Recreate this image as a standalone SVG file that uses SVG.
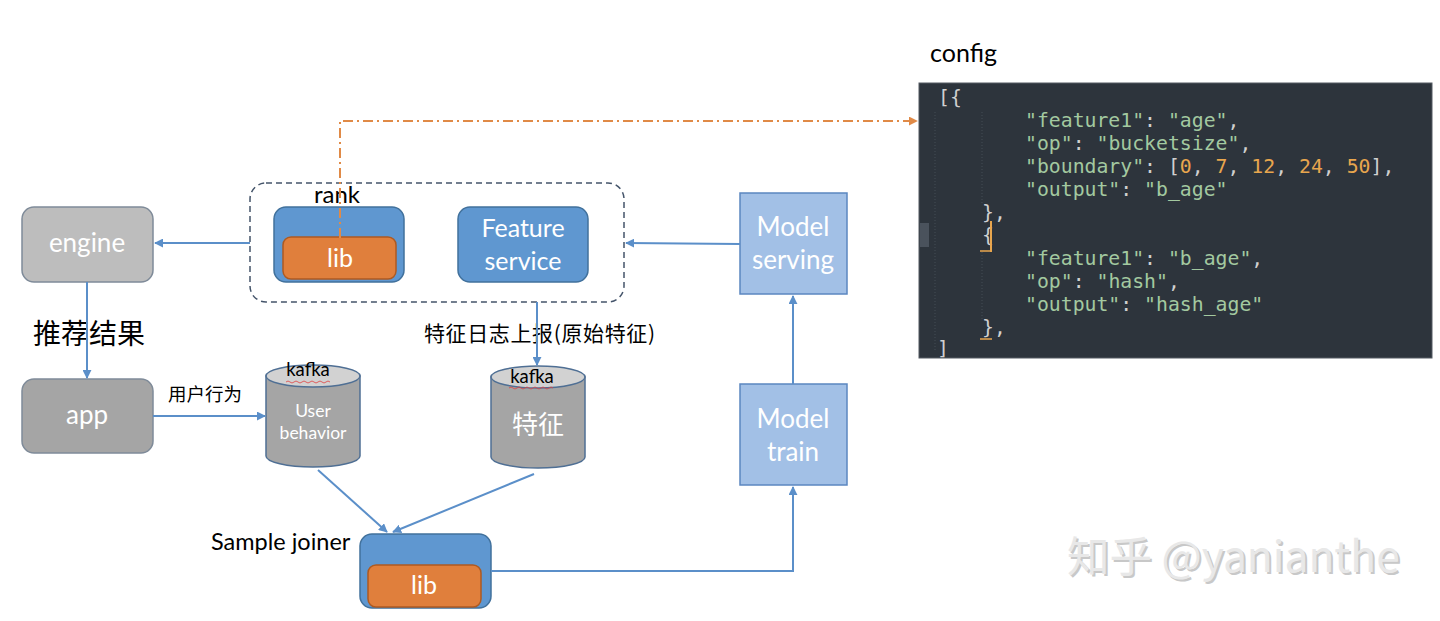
<svg xmlns="http://www.w3.org/2000/svg" width="1440" height="621" viewBox="0 0 1440 621">
<defs>
<marker id="ab" viewBox="0 0 10 10" refX="9" refY="5" markerWidth="9" markerHeight="9" markerUnits="userSpaceOnUse" orient="auto"><path d="M0,0 L10,5 L0,10 z" fill="#5b8fc9"/></marker>
<marker id="ao" viewBox="0 0 10 10" refX="9" refY="5" markerWidth="9" markerHeight="9" markerUnits="userSpaceOnUse" orient="auto"><path d="M0,0 L10,5 L0,10 z" fill="#e08a47"/></marker>
<style>
.lbl{font-family:Lato,"Liberation Sans","Noto Sans CJK SC",sans-serif;fill:#000}
.wt{font-family:Lato,"Liberation Sans","Noto Sans CJK SC",sans-serif;fill:#fff;text-anchor:middle}
.blue{fill:#5f97d0;stroke:#41719c;stroke-width:1.5}
.lib{fill:#e07f3c;stroke:#ae5a21;stroke-width:1.5}
.lblue{fill:#a2c0e6;stroke:#5b87c0;stroke-width:1.5}
.gray1{fill:#bdbdbd;stroke:#7f8b99;stroke-width:1.5}
.gray2{fill:#a5a5a5;stroke:#7f8b99;stroke-width:1.5}
.cyl{fill:#a5a5a5;stroke:#4f6f94;stroke-width:1.5}
.cyltop{fill:#d2d2d2;stroke:#4f6f94;stroke-width:1.5}
.conn{fill:none;stroke:#5b8fc9;stroke-width:2}
.code{font-family:"DejaVu Sans Mono","Liberation Mono",monospace;font-size:19.8px;white-space:pre}
.s{fill:#a3c9a0}
.p{fill:#d0d0d0}
.n{fill:#e8a64e}
</style>
</defs>
<rect width="1440" height="621" fill="#fff"/>

<g id="rank-container">
<rect x="250" y="183" width="374" height="119" rx="16" fill="none" stroke="#44546a" stroke-width="1.5" stroke-dasharray="6 4"/>
<text class="lbl" x="314" y="203" font-size="24">rank</text>
</g>
<g id="rank">
<rect class="blue" x="274" y="207" width="130" height="75" rx="12"/>
<rect class="lib" x="283" y="237" width="113" height="42" rx="8"/>
<text class="wt" x="340" y="267" font-size="25">lib</text>
</g>
<g id="feature-service">
<rect class="blue" x="458" y="207" width="130" height="75" rx="12"/>
<text class="wt" x="523" y="237" font-size="25">Feature</text>
<text class="wt" x="523" y="270" font-size="25">service</text>
</g>
<g id="engine">
<rect class="gray1" x="22" y="207" width="131" height="75" rx="12"/>
<text class="wt" x="87" y="252" font-size="26">engine</text>
</g>
<g id="app">
<rect class="gray2" x="22" y="379" width="131" height="74" rx="12"/>
<text class="wt" x="87" y="424" font-size="26">app</text>
</g>
<g id="model-serving">
<rect class="lblue" x="740" y="193" width="107" height="101"/>
<text class="wt" x="793" y="236" font-size="26">Model</text>
<text class="wt" x="793" y="269" font-size="26">serving</text>
</g>
<g id="model-train">
<rect class="lblue" x="740" y="384" width="107" height="101"/>
<text class="wt" x="793" y="428" font-size="26">Model</text>
<text class="wt" x="793" y="461" font-size="26">train</text>
</g>
<g id="user-behavior">
<path class="cyl" d="M266,376 L266,456 A47,11 0 0 0 360,456 L360,376 Z"/>
<ellipse class="cyltop" cx="313" cy="376" rx="47" ry="11"/>
<text class="lbl" x="308" y="376" font-size="18.5" text-anchor="middle">kafka</text>
<path d="M286,382 q2,-2 4,0 t4,0 t4,0 t4,0 t4,0 t4,0 t4,0 t4,0 t4,0 t4,0 t4,0" fill="none" stroke="#e04040" stroke-width="0.8"/>
<text class="wt" x="313" y="417" font-size="17.5">User</text>
<text class="wt" x="313" y="439" font-size="17.5">behavior</text>
</g>
<g id="feature-kafka">
<path class="cyl" d="M491,377 L491,457 A47,11 0 0 0 585,457 L585,377 Z"/>
<ellipse class="cyltop" cx="538" cy="377" rx="47" ry="11"/>
<text class="lbl" x="532" y="383" font-size="18.5" text-anchor="middle">kafka</text>
<path d="M509,388 q2,-2 4,0 t4,0 t4,0 t4,0 t4,0 t4,0 t4,0 t4,0 t4,0 t4,0 t4,0" fill="none" stroke="#e04040" stroke-width="0.8"/>
<text class="wt" x="538" y="434" font-size="26" style="font-family:'Noto Sans CJK SC',sans-serif">特征</text>
</g>
<g id="sample-joiner">
<rect class="blue" x="360" y="534" width="131" height="74" rx="12"/>
<rect class="lib" x="368" y="565" width="113" height="42" rx="8"/>
<text class="wt" x="424" y="594" font-size="25">lib</text>
<text class="lbl" x="211" y="550" font-size="23.5">Sample joiner</text>
</g>

<g id="labels">
<text class="lbl" x="33" y="344" font-size="28" style="font-family:'Noto Sans CJK SC',sans-serif">推荐结果</text>
<text class="lbl" x="168" y="401" font-size="18.5" style="font-family:'Noto Sans CJK SC',sans-serif">用户行为</text>
<text class="lbl" x="424" y="341" font-size="21" textLength="231" style="font-family:'Noto Sans CJK SC',sans-serif">特征日志上报(原始特征)</text>
<text class="lbl" x="930" y="62" font-size="25">config</text>
</g>

<g id="config">
<rect x="919" y="83" width="513" height="275" fill="#2d343c" stroke="#555b63" stroke-width="1"/>
<rect x="920" y="223" width="9" height="24" fill="#4a525c"/>
<line x1="935" y1="112" x2="935" y2="350" stroke="#454c55" stroke-width="1" stroke-dasharray="1 2"/>
<line x1="982" y1="112" x2="982" y2="205" stroke="#454c55" stroke-width="1" stroke-dasharray="1 2"/>
<line x1="982" y1="252" x2="982" y2="320" stroke="#454c55" stroke-width="1" stroke-dasharray="1 2"/>
<text class="code p" x="938" y="104">[{</text>
<text class="code" x="1025" y="127"><tspan class="s">"feature1"</tspan><tspan class="p">: </tspan><tspan class="s">"age"</tspan><tspan class="p">,</tspan></text>
<text class="code" x="1025" y="150"><tspan class="s">"op"</tspan><tspan class="p">: </tspan><tspan class="s">"bucketsize"</tspan><tspan class="p">,</tspan></text>
<text class="code" x="1025" y="173"><tspan class="s">"boundary"</tspan><tspan class="p">: [</tspan><tspan class="n">0</tspan><tspan class="p">, </tspan><tspan class="n">7</tspan><tspan class="p">, </tspan><tspan class="n">12</tspan><tspan class="p">, </tspan><tspan class="n">24</tspan><tspan class="p">, </tspan><tspan class="n">50</tspan><tspan class="p">],</tspan></text>
<text class="code" x="1025" y="196"><tspan class="s">"output"</tspan><tspan class="p">: </tspan><tspan class="s">"b_age"</tspan></text>
<text class="code p" x="982" y="219">},</text>
<text class="code p" x="982" y="242">{</text>
<line x1="991" y1="221" x2="991" y2="252" stroke="#e8a64e" stroke-width="2"/>
<line x1="980" y1="251" x2="991" y2="251" stroke="#e8a64e" stroke-width="1.5"/>
<text class="code" x="1025" y="265"><tspan class="s">"feature1"</tspan><tspan class="p">: </tspan><tspan class="s">"b_age"</tspan><tspan class="p">,</tspan></text>
<text class="code" x="1025" y="288"><tspan class="s">"op"</tspan><tspan class="p">: </tspan><tspan class="s">"hash"</tspan><tspan class="p">,</tspan></text>
<text class="code" x="1025" y="311"><tspan class="s">"output"</tspan><tspan class="p">: </tspan><tspan class="s">"hash_age"</tspan></text>
<text class="code p" x="982" y="334">},</text>
<line x1="980" y1="339" x2="992" y2="339" stroke="#e8a64e" stroke-width="1.5"/>
<text class="code p" x="937" y="355">]</text>
</g>

<g id="connectors">
<line class="conn" x1="250" y1="243" x2="155" y2="243" marker-end="url(#ab)"/>
<line class="conn" x1="740" y1="244" x2="626" y2="243" marker-end="url(#ab)"/>
<line class="conn" x1="87" y1="282" x2="87" y2="378" marker-end="url(#ab)"/>
<line class="conn" x1="153" y1="416" x2="265" y2="416" marker-end="url(#ab)"/>
<line class="conn" x1="537" y1="302" x2="537" y2="365" marker-end="url(#ab)"/>
<line class="conn" x1="318" y1="470" x2="387" y2="532" marker-end="url(#ab)"/>
<line class="conn" x1="534" y1="474" x2="393" y2="532" marker-end="url(#ab)"/>
<polyline class="conn" points="491,571 793,571 793,487" marker-end="url(#ab)"/>
<line class="conn" x1="793" y1="384" x2="793" y2="296" marker-end="url(#ab)"/>
<polyline points="340,238 340,121 917,121" fill="none" stroke="#e08a47" stroke-width="2" stroke-dasharray="10 4 2 4" marker-end="url(#ao)"/>
</g>

<g id="watermark">
<text x="1069" y="574" font-size="42.5" fill="#c8c8c8" style="font-family:'Noto Sans CJK SC','Noto Sans',sans-serif">知乎 @yanianthe</text>
<text x="1067" y="572" font-size="42.5" fill="#e8e8e8" style="font-family:'Noto Sans CJK SC','Noto Sans',sans-serif">知乎 @yanianthe</text>
</g>
</svg>
